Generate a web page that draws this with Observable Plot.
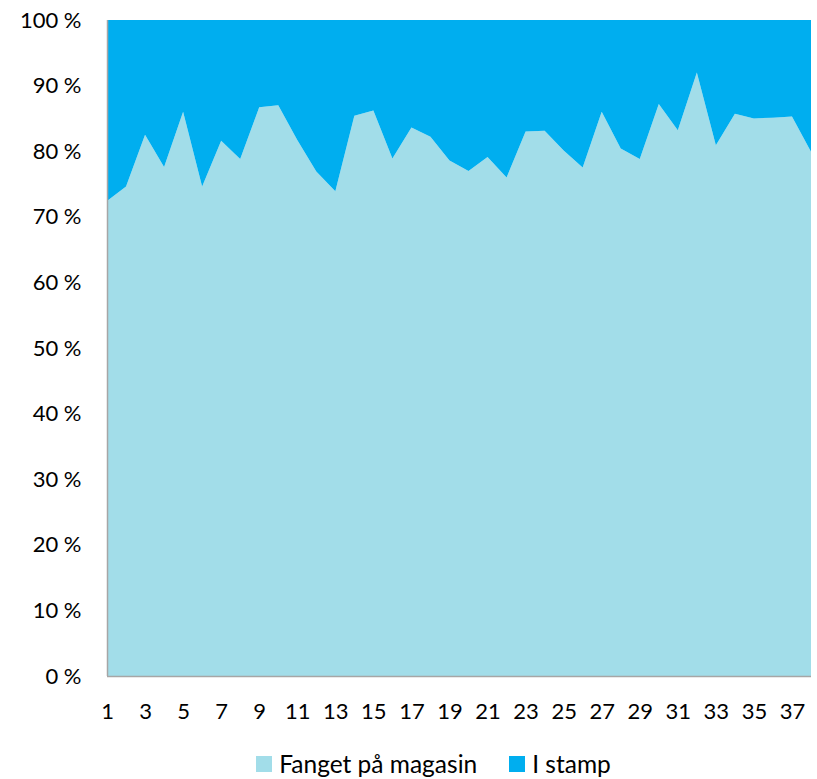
<!DOCTYPE html>
<html><head><meta charset="utf-8">
<script src="https://cdn.jsdelivr.net/npm/d3@7"></script>
<script src="https://cdn.jsdelivr.net/npm/@observablehq/plot@0.6"></script>
<style>
body{margin:0;background:#fff;font-family:Lato,sans-serif;}
#legend{display:flex;justify-content:center;gap:32px;font-size:24.5px;color:#000;margin-top:24px;padding-left:50px;line-height:28px}
#legend .item{display:flex;align-items:center;gap:7px}
#legend .sw{width:16px;height:16px;display:inline-block}
</style></head><body><div id="chart"></div><div id="legend"></div>
<script>
const weeks = [1,2,3,4,5,6,7,8,9,10,11,12,13,14,15,16,17,18,19,20,21,22,23,24,25,26,27,28,29,30,31,32,33,34,35,36,37,38];
const fangetPct = [72.4,74.6,82.5,77.6,86.0,74.6,81.6,78.8,86.7,87.0,81.7,76.9,73.9,85.4,86.2,78.9,83.6,82.2,78.6,77.0,79.1,76.0,83.0,83.1,80.1,77.5,86.0,80.4,78.8,87.2,83.2,92.0,80.9,85.7,85.0,85.1,85.3,79.9];
const seriesNames = ["Fanget på magasin","I stamp"];
const seriesColors = ["#A2DDE9","#00AEEF"];
const xTicks = [1,3,5,7,9,11,13,15,17,19,21,23,25,27,29,31,33,35,37];
const yTicks = [0,10,20,30,40,50,60,70,80,90,100];

const rows = [];
weeks.forEach((w,i)=>{
  rows.push({week:w, series:seriesNames[0], value:fangetPct[i]});
  rows.push({week:w, series:seriesNames[1], value:100-fangetPct[i]});
});

const chart = Plot.plot({
  width:817, height:726,
  marginLeft:107, marginRight:6, marginTop:20, marginBottom:50,
  style:{fontFamily:"Lato, sans-serif", fontSize:"22px", color:"#000", background:"#fff"},
  x:{domain:[1,38], label:null},
  y:{domain:[0,100], label:null},
  color:{domain:seriesNames, range:seriesColors},
  marks:[
    Plot.areaY(rows,{x:"week", y:"value", z:"series", fill:"series", order:seriesNames}),
    Plot.axisX({ticks:xTicks, tickSize:0, tickPadding:27, tickFormat:d=>String(d), label:null}),
    Plot.axisY({ticks:yTicks, tickSize:0, tickPadding:26, tickFormat:d=>d+" %", label:null}),
    Plot.ruleX([1],{stroke:"#a6a6a6", strokeWidth:1.5}),
    Plot.ruleY([0],{stroke:"#a6a6a6", strokeWidth:1.5})
  ]
});
document.getElementById("chart").appendChild(chart);
const leg = document.getElementById("legend");
seriesNames.forEach((n,i)=>{
  const it=document.createElement("div");it.className="item";
  const sw=document.createElement("span");sw.className="sw";sw.style.background=seriesColors[i];
  const t=document.createElement("span");t.textContent=n;
  it.appendChild(sw);it.appendChild(t);leg.appendChild(it);
});
</script></body></html>
